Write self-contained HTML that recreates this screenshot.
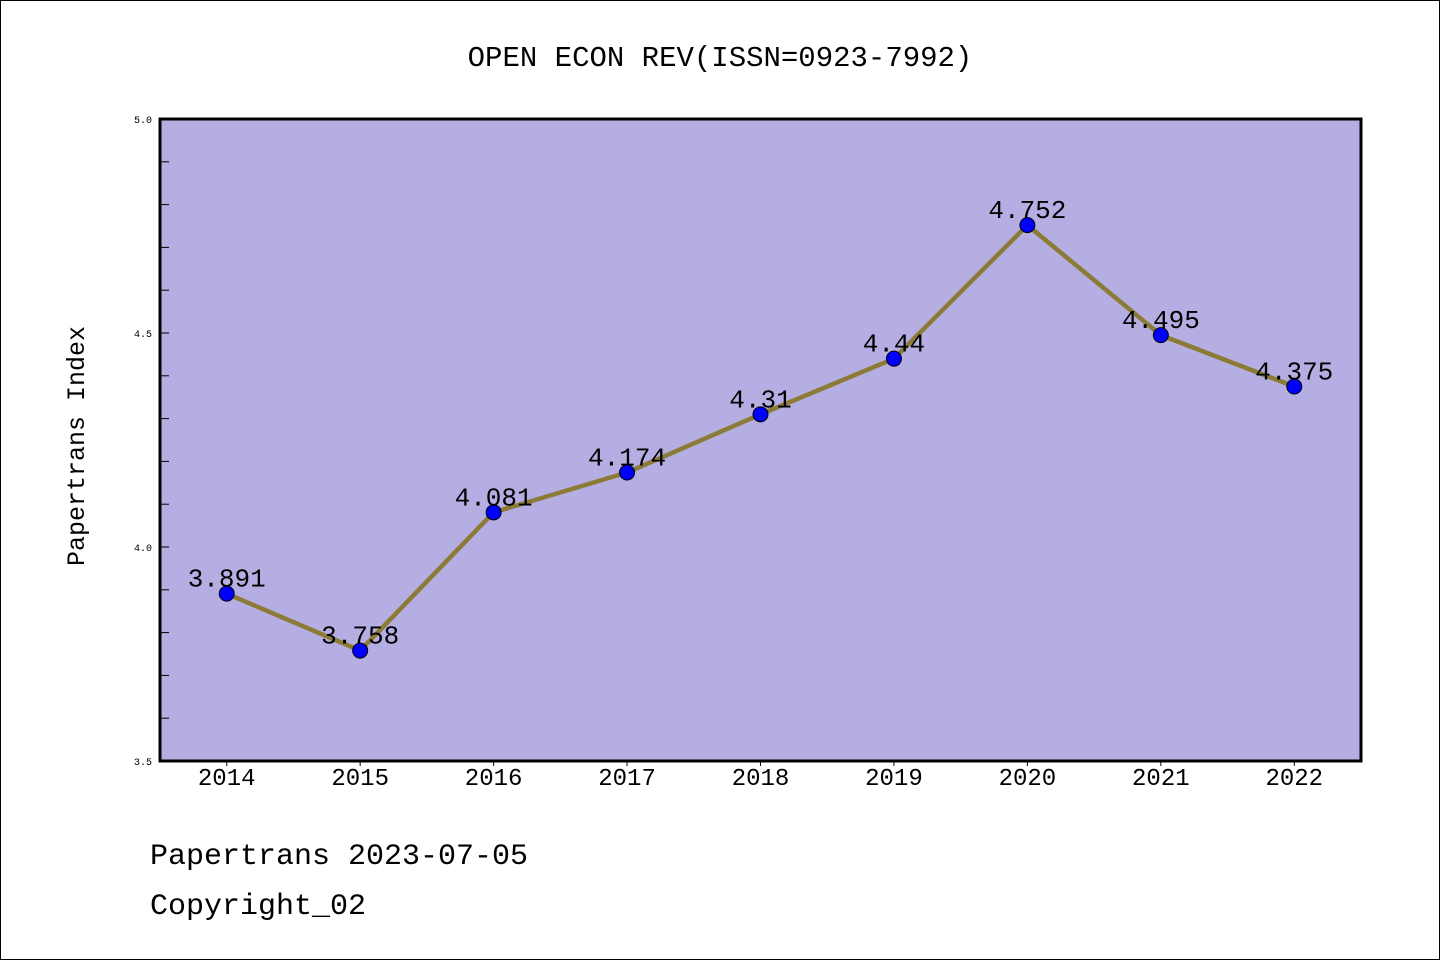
<!DOCTYPE html>
<html><head><meta charset="utf-8"><style>
html,body{margin:0;padding:0;background:#fff}
svg{display:block}
text{font-family:"Liberation Mono","WenQuanYi Zen Hei",monospace}
</style></head><body>
<svg id="chart" width="1440" height="960" xmlns="http://www.w3.org/2000/svg">
<rect x="0.5" y="0.5" width="1439" height="959" fill="#fff" stroke="#000"/>
<text x="720" y="66" font-size="29" text-anchor="middle">OPEN ECON REV(ISSN=0923-7992)</text>
<rect x="160" y="119" width="1201" height="642" fill="#b5aee2"/>
<g id="yaxis"></g>
<g id="xaxis"></g>
<g id="series"></g>
<rect x="160" y="119" width="1201" height="642" fill="none" stroke="#000" stroke-width="3"/>
<text x="84" y="446" font-size="25" text-anchor="middle" transform="rotate(-90 84 446)">Papertrans Index</text>
<text x="150" y="864" font-size="30">Papertrans 2023-07-05</text>
<text x="150" y="914" font-size="30">Copyright_02</text>
</svg>
<script>
const years = [2014, 2015, 2016, 2017, 2018, 2019, 2020, 2021, 2022];
const values = [3.891, 3.758, 4.081, 4.174, 4.31, 4.44, 4.752, 4.495, 4.375];
const yTickLabels = ["3.5", "4.0", "4.5", "5.0"];
const yMin = 3.5, yMax = 5.0, xMin = 2013.5, xMax = 2022.5;
const L = 160, R = 1361, T = 119, B = 761;
const NS = "http://www.w3.org/2000/svg";
const xs = v => L + (v - xMin) / (xMax - xMin) * (R - L);
const ys = v => B - (v - yMin) / (yMax - yMin) * (B - T);
function mk(tag, attrs, parent, txt) {
  const e = document.createElementNS(NS, tag);
  for (const k in attrs) e.setAttribute(k, attrs[k]);
  if (txt !== undefined) e.textContent = txt;
  parent.appendChild(e);
  return e;
}
const ya = document.getElementById('yaxis');
for (let i = 0; i <= 15; i++) {
  const v = yMin + i * 0.1;
  const t = mk('line', {x1: L, x2: L + 9, y1: ys(v), y2: ys(v), stroke: '#000', 'stroke-width': 1}, ya);
  
  
}
yTickLabels.forEach(s => {
  const t = mk('text', {x: L - 8, y: ys(parseFloat(s)) + 4, 'font-size': 10, 'text-anchor': 'end', 'font-family': 'DejaVu Sans, sans-serif'}, ya, s);
  
  
});
const xa = document.getElementById('xaxis');
years.forEach(y => {
  const t = mk('line', {x1: xs(y), x2: xs(y), y1: B, y2: B + 5, stroke: '#000', 'stroke-width': 1}, xa);
  
  
  const l = mk('text', {x: xs(y), y: B + 24, 'font-size': 24, 'text-anchor': 'middle'}, xa, String(y));
  
  
});
const sg = document.getElementById('series');
const pts = years.map((y, i) => xs(y) + ',' + ys(values[i])).join(' ');
const line = mk('polyline', {points: pts, fill: 'none', stroke: '#8c7b36', 'stroke-width': 4.5, 'stroke-linejoin': 'round'}, sg);


years.forEach((y, i) => {
  const c = mk('circle', {cx: xs(y), cy: ys(values[i]), r: 7.5, fill: '#0000ff', stroke: '#000', 'stroke-width': 1}, sg);
  
  
  const l = mk('text', {x: xs(y), y: ys(values[i]) - 7, 'font-size': 26, 'text-anchor': 'middle'}, sg, String(values[i]));
  
  
});
</script>
</body></html>
